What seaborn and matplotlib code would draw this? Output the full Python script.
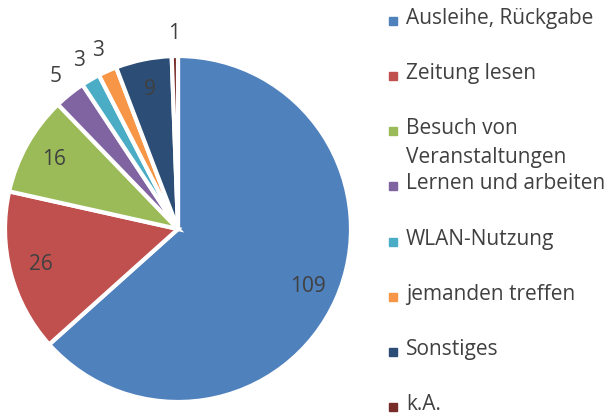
import matplotlib
matplotlib.use("Agg")
import matplotlib.pyplot as plt
import seaborn as sns
import numpy as np

# --- DATA ---
categories = ["Ausleihe, Rückgabe", "Zeitung lesen", "Besuch von\nVeranstaltungen",
              "Lernen und arbeiten", "WLAN-Nutzung", "jemanden treffen", "Sonstiges", "k.A."]
counts = [109, 26, 16, 5, 3, 3, 9, 1]
colors = ["#4F81BD", "#C0504D", "#9BBB59", "#8064A2", "#4BACC6", "#F79646", "#2C4D75", "#772C2A"]

sns.set_theme(style="white")
plt.rcParams['font.family'] = ['Open Sans', 'DejaVu Sans']
TEXT = "#404040"
FS = 15

W, H = 608, 417
fig = plt.figure(figsize=(W / 100, H / 100), dpi=100)
cx, cy, r = 178, 229, 173
ax = fig.add_axes([(cx - r) / W, (H - cy - r) / H, 2 * r / W, 2 * r / H])

palette = sns.color_palette(colors)
wedges, _, autotexts = ax.pie(
    counts, colors=palette, startangle=90, counterclock=False,
    autopct=lambda p: f"{p * sum(counts) / 100:.0f}", pctdistance=0.82,
    wedgeprops=dict(edgecolor="white", linewidth=3),
    textprops=dict(color=TEXT, fontsize=FS))
# small slices get their labels outside
for val, t in zip(counts, autotexts):
    if val < 9:
        x, y = t.get_position()
        k = 1.13 / 0.82
        t.set_position((x * k, y * k))
ax.set_xlim(-1, 1)
ax.set_ylim(-1, 1)
ax.axis("off")

# legend drawn on the right
step = (407 - 21) / 7
for i, (lab, col) in enumerate(zip(categories, palette)):
    yc = 21 + i * step
    fig.patches.append(plt.Rectangle((389 / W, 1 - (yc + 4) / H), 8 / W, 8 / H,
                                     transform=fig.transFigure, color=col))
    fig.text(406 / W, 1 - (yc - 13) / H, lab, ha="left", va="top",
             fontsize=FS, color=TEXT, linespacing=1.5)

fig.savefig("out.png", dpi=100)
